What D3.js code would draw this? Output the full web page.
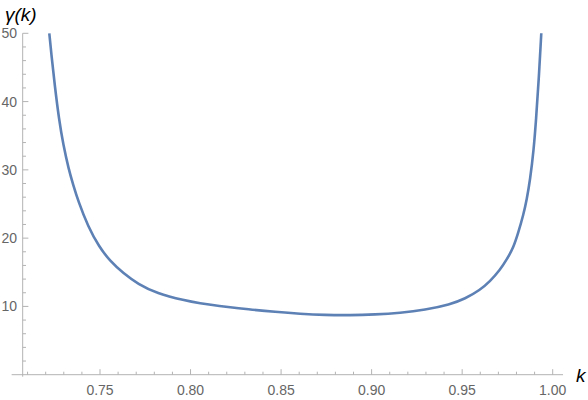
<!DOCTYPE html>
<html><head><meta charset="utf-8">
<script src="https://cdn.jsdelivr.net/npm/d3@7"></script>
<style>body{margin:0;background:#fff}svg{display:block}</style>
</head><body><svg id="c" width="588" height="400"></svg>
<script>
const kValues = [0.7220,0.7232,0.7250,0.7274,0.7297,0.7327,0.7351,0.7380,0.7434,0.7495,0.7555,0.7629,0.7710,0.7813,0.7969,0.8052,0.8145,0.8328,0.8467,0.8605,0.8743,0.8881,0.9019,0.9157,0.9295,0.9433,0.9516,0.9599,0.9654,0.9709,0.9748,0.9783,0.9810,0.9838,0.9857,0.9875,0.9895,0.9908,0.9923,0.9937];
const gammaValues = [50.0,46.8,42.4,37.3,33.7,30.1,27.9,25.4,21.7,18.75,16.65,14.85,13.28,11.92,10.85,10.45,10.10,9.55,9.20,8.92,8.74,8.70,8.82,9.05,9.48,10.28,11.12,12.40,13.68,15.33,16.95,18.6,20.8,23.4,25.7,28.51,32.9,37.3,43.2,50.0];
const xMajorTicks = [0.75,0.80,0.85,0.90,0.95,1.00];
const yMajorTicks = [10,20,30,40,50];

const svg = d3.select("#c");
const x = d3.scaleLinear().domain([0.75,1.00]).range([100,552.7]);
const y = d3.scaleLinear().domain([0,50]).range([374.7,33.3]);
const axisColor = "#b3b3b3", labelColor = "#666";
const font = "'Liberation Sans', Arial, sans-serif";

const xMinor = d3.range(71,101).map(d=>d/100).filter(d=>!xMajorTicks.some(m=>Math.abs(m-d)<1e-9));
const yMinor = d3.range(2,50,2).filter(d=>d%10!==0);
const yAxisX = x(0.7073);
const y0 = y(0);

// x axis line
svg.append("line").attr("x1",x(0.7012)).attr("x2",x(1.0057)).attr("y1",y0).attr("y2",y0)
  .attr("stroke",axisColor).attr("stroke-width",1);
svg.selectAll(".xmin").data(xMinor).enter().append("line")
  .attr("x1",d=>x(d)).attr("x2",d=>x(d)).attr("y1",y0).attr("y2",y0-3)
  .attr("stroke",axisColor).attr("stroke-width",1);
svg.selectAll(".xmaj").data(xMajorTicks).enter().append("line")
  .attr("x1",d=>x(d)).attr("x2",d=>x(d)).attr("y1",y0).attr("y2",y0-5.5)
  .attr("stroke",axisColor).attr("stroke-width",1);
svg.selectAll(".xlab").data(xMajorTicks).enter().append("text")
  .attr("x",d=>x(d)).attr("y",395).attr("text-anchor","middle")
  .attr("font-family",font).attr("font-size",14).attr("fill",labelColor)
  .text(d=>d3.format(".2f")(d));

// y axis line
svg.append("line").attr("x1",yAxisX).attr("x2",yAxisX).attr("y1",y(50)).attr("y2",y0+2)
  .attr("stroke",axisColor).attr("stroke-width",1);
svg.selectAll(".ymin").data(yMinor).enter().append("line")
  .attr("x1",yAxisX).attr("x2",yAxisX+3.3).attr("y1",d=>y(d)).attr("y2",d=>y(d))
  .attr("stroke",axisColor).attr("stroke-width",1);
svg.selectAll(".ymaj").data(yMajorTicks).enter().append("line")
  .attr("x1",yAxisX).attr("x2",yAxisX+5.7).attr("y1",d=>y(d)).attr("y2",d=>y(d))
  .attr("stroke",axisColor).attr("stroke-width",1);
svg.selectAll(".ylab").data(yMajorTicks).enter().append("text")
  .attr("x",17).attr("y",d=>y(d)+5).attr("text-anchor","end")
  .attr("font-family",font).attr("font-size",14).attr("fill",labelColor)
  .text(d=>d);

// curve
const pts = kValues.map((k,i)=>[k,gammaValues[i]]);
svg.append("path").datum(pts)
  .attr("d",d3.line().x(d=>x(d[0])).y(d=>y(d[1])).curve(d3.curveBasis))
  .attr("fill","none").attr("stroke","#5E81B5").attr("stroke-width",2.6)
  .attr("stroke-linejoin","round");

// axis labels
svg.append("text").attr("x",5).attr("y",21).attr("font-family",font)
  .attr("font-size",19).attr("font-style","italic").attr("fill","#000").text("γ(k)");
svg.append("text").attr("x",576).attr("y",382).attr("font-family",font)
  .attr("font-size",19).attr("font-style","italic").attr("fill","#000").text("k");
</script></body></html>
